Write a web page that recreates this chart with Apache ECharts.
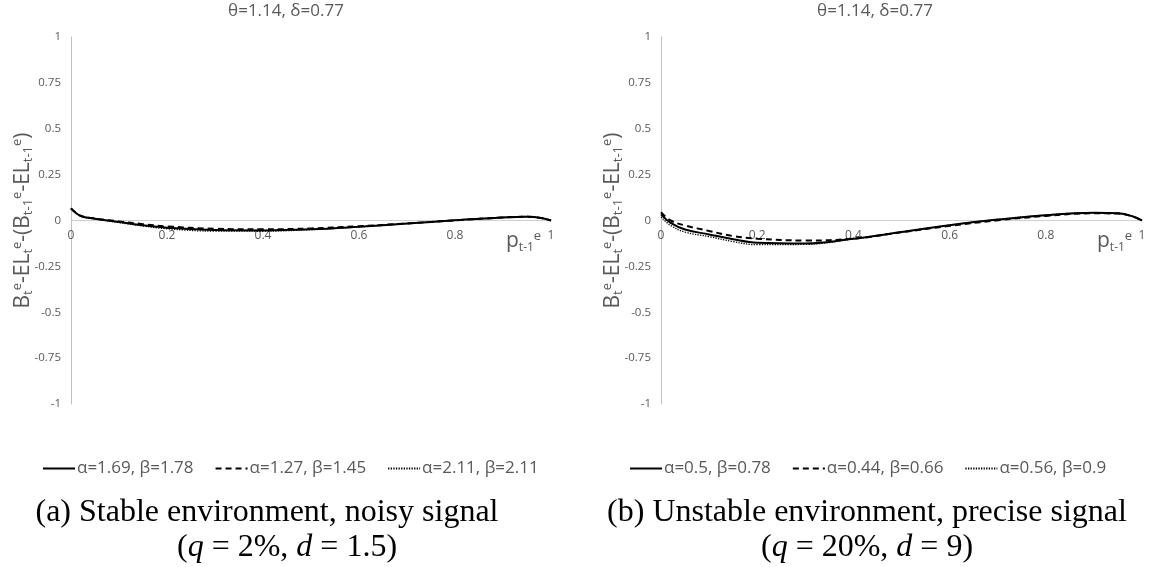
<!DOCTYPE html>
<html><head><meta charset="utf-8">
<script src="https://cdn.jsdelivr.net/npm/echarts@6/dist/echarts.min.js"></script>
<style>html,body{margin:0;padding:0;background:#fff}#c{width:1153px;height:567px}</style>
</head><body><div id="c"></div>
<script>
// x values (p_{t-1}^e)
var xs = [0, 0.02, 0.05, 0.1, 0.15, 0.2, 0.3, 0.4, 0.5, 0.6, 0.7, 0.8, 0.9, 0.95, 0.98, 1.0];
// Panel (a): stable environment, noisy signal
var aSolid  = [0.066, 0.025, 0.010, -0.008, -0.026, -0.039, -0.052, -0.054, -0.048, -0.034, -0.017, 0.001, 0.017, 0.021, 0.014, 0.0];
var aDashed = [0.066, 0.026, 0.011, -0.005, -0.020, -0.032, -0.045, -0.048, -0.043, -0.031, -0.016, 0.001, 0.016, 0.020, 0.013, 0.0];
var aDotted = [0.066, 0.024, 0.008, -0.011, -0.030, -0.045, -0.058, -0.058, -0.050, -0.035, -0.017, 0.002, 0.018, 0.022, 0.014, 0.0];
// Panel (b): unstable environment, precise signal
var bSolid  = [0.033, -0.013, -0.049, -0.076, -0.102, -0.121, -0.125, -0.099, -0.063, -0.026, 0.005, 0.029, 0.042, 0.039, 0.023, 0.0];
var bDashed = [0.045, 0.000, -0.027, -0.057, -0.085, -0.099, -0.109, -0.099, -0.064, -0.029, 0.001, 0.025, 0.039, 0.038, 0.022, 0.0];
var bDotted = [0.020, -0.027, -0.063, -0.088, -0.115, -0.132, -0.130, -0.101, -0.063, -0.025, 0.006, 0.030, 0.043, 0.040, 0.023, 0.0];
// names
var aNames = ['α=1.69, β=1.78', 'α=1.27, β=1.45', 'α=2.11, β=2.11'];
var bNames = ['α=0.5, β=0.78', 'α=0.44, β=0.66', 'α=0.56, β=0.9'];
var panelTitle = 'θ=1.14, δ=0.77';
var yTicks = {min: -1, max: 1, interval: 0.25};
var xTicks = {min: 0, max: 1, interval: 0.2};

function pairs(ys){ return xs.map(function(x,i){ return [x, ys[i]]; }); }

var gray = '#595959';
var sans = '"Open Sans", "Noto Sans", sans-serif';
var serif = '"Liberation Serif", "DejaVu Serif", serif';
var GRID_H = 367;

var richSS = {
  sb: {fontSize: 13, color: gray, fontFamily: sans, verticalAlign: 'bottom', lineHeight: 13},
  sp: {fontSize: 13, color: gray, fontFamily: sans, verticalAlign: 'top', lineHeight: 13}
};
var richX = {
  sb: {fontSize: 12, color: gray, fontFamily: sans, verticalAlign: 'bottom', lineHeight: 12},
  sp: {fontSize: 13, color: gray, fontFamily: sans, verticalAlign: 'top', lineHeight: 12}
};

function xAxisOf(gi){
  return {
    type: 'value', gridIndex: gi, min: xTicks.min, max: xTicks.max, interval: xTicks.interval,
    position: 'bottom', offset: -GRID_H / 2,
    axisLine: {onZero: false, lineStyle: {color: '#d0d0d0', width: 1}},
    axisTick: {show: false}, splitLine: {show: false},
    axisLabel: {color: gray, fontSize: 12, fontFamily: sans, margin: 9},
    name: 'p{sb|t-1}{sp|e}', nameLocation: 'end', nameGap: -45, nameMoveOverlap: false,
    nameTextStyle: {color: gray, fontSize: 21, fontFamily: sans, lineHeight: 24, verticalAlign: 'top', padding: [9, 0, 0, 0], rich: richX}
  };
}
function yAxisOf(gi){
  return {
    type: 'value', gridIndex: gi, min: yTicks.min, max: yTicks.max, interval: yTicks.interval,
    axisLine: {show: true, onZero: false, lineStyle: {color: '#bfbfbf', width: 1}},
    axisTick: {show: false}, splitLine: {show: false},
    axisLabel: {color: gray, fontSize: 11.5, fontFamily: sans, margin: 10},
    name: 'B{sb|t}{sp|e}-EL{sb|t}{sp|e}-(B{sb|t-1}{sp|e}-EL{sb|t-1}{sp|e})',
    nameLocation: 'middle', nameGap: 36, nameMoveOverlap: false,
    nameTextStyle: {color: gray, fontSize: 21, fontFamily: sans, lineHeight: 24, rich: richSS}
  };
}
function seriesOf(names, s, d, t, gi){
  return [
    {name: names[0], type: 'line', xAxisIndex: gi, yAxisIndex: gi, data: pairs(s), smooth: 0.4, symbol: 'none',
      lineStyle: {color: '#000', width: 2, type: 'solid'}, itemStyle: {color: '#000'}, z: 3},
    {name: names[1], type: 'line', xAxisIndex: gi, yAxisIndex: gi, data: pairs(d), smooth: 0.4, symbol: 'none',
      lineStyle: {color: '#000', width: 2, type: [6, 4]}, itemStyle: {color: '#000'}, z: 2},
    {name: names[2], type: 'line', xAxisIndex: gi, yAxisIndex: gi, data: pairs(t), smooth: 0.4, symbol: 'none',
      lineStyle: {color: '#000', width: 1.3, type: [1.3, 1.3]}, itemStyle: {color: '#000'}, z: 1}
  ];
}
function legendOf(names, left){
  return {
    data: names, left: left, top: 455, orient: 'horizontal', itemWidth: 32, itemHeight: 14, itemGap: 21,
    itemStyle: {opacity: 0},
    textStyle: {color: gray, fontSize: 17, fontFamily: sans, padding: [0, 0, 0, -3]},
    selectedMode: false
  };
}
var capRich = {
  it: {fontStyle: 'italic', fontSize: 32, fontFamily: serif, color: '#000'}
};
var capStyle = {color: '#000', fontSize: 32, fontWeight: 'normal', fontFamily: serif, rich: capRich};
var ttlStyle = {color: gray, fontSize: 17, fontWeight: 'normal', fontFamily: sans};

var option = {
  animation: false,
  backgroundColor: '#fff',
  title: [
    {text: panelTitle, left: 281, top: -2, textAlign: 'center', textStyle: ttlStyle},
    {text: panelTitle, left: 870, top: -2, textAlign: 'center', textStyle: ttlStyle},
    {text: '(a) Stable environment, noisy signal', left: 262, top: 492, textAlign: 'center', textStyle: capStyle},
    {text: '({it|q} = 2%, {it|d} = 1.5)', left: 282, top: 527, textAlign: 'center', textStyle: capStyle},
    {text: '(b) Unstable environment, precise signal', left: 862, top: 492, textAlign: 'center', textStyle: capStyle},
    {text: '({it|q} = 20%, {it|d} = 9)', left: 862, top: 527, textAlign: 'center', textStyle: capStyle}
  ],
  legend: [legendOf(aNames, 37), legendOf(bNames, 624)],
  grid: [
    {left: 71, top: 37, width: 480, height: GRID_H},
    {left: 661, top: 37, width: 481, height: GRID_H}
  ],
  xAxis: [xAxisOf(0), xAxisOf(1)],
  yAxis: [yAxisOf(0), yAxisOf(1)],
  series: seriesOf(aNames, aSolid, aDashed, aDotted, 0).concat(seriesOf(bNames, bSolid, bDashed, bDotted, 1))
};
var chart = echarts.init(document.getElementById('c'), null, {renderer: 'canvas'});
chart.setOption(option);
</script></body></html>
